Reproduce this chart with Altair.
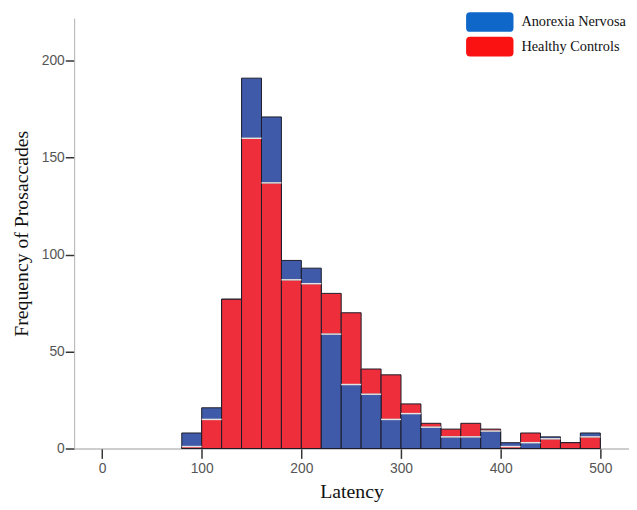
import altair as alt
import pandas as pd

# ---- data ----
bin_starts = [80, 100, 120, 140, 160, 180, 200, 220, 240, 260, 280,
              300, 320, 340, 360, 380, 400, 420, 440, 460, 480]
bin_width = 20
an_counts = [8, 21, 77, 191, 171, 97, 93, 59, 33, 28, 15,
             18, 11, 6, 6, 9, 3, 3, 6, 3, 8]
hc_counts = [1, 15, 77, 160, 137, 87, 85, 80, 70, 41, 38,
             23, 13, 10, 13, 10, 1, 8, 5, 3, 6]
groups = ["Anorexia Nervosa", "Healthy Controls"]
x_ticks = [0, 100, 200, 300, 400, 500]
y_ticks = [0, 50, 100, 150, 200]

bar_colors = ["#3f5aa8", "#ee2e3b"]
legend_colors = ["#0f68c9", "#fa1111"]

rows = []
for s, a, h in zip(bin_starts, an_counts, hc_counts):
    hc_front = h <= a  # the shorter bar is drawn in front
    rows.append(dict(start=s, end=s + bin_width, group=groups[0], count=a,
                     layer=0 if hc_front else 1,
                     edge=(not hc_front) and a < h))
    rows.append(dict(start=s, end=s + bin_width, group=groups[1], count=h,
                     layer=1 if hc_front else 0,
                     edge=hc_front and h < a))
df = pd.DataFrame(rows)

x_enc = alt.X("start:Q",
              scale=alt.Scale(domain=[-28, 528.8], nice=False, zero=False),
              axis=alt.Axis(values=x_ticks, title="Latency", grid=False,
                            tickSize=10, labelPadding=3,
                            domainColor="#9a9a9a", tickColor="#333333",
                            titleX=281, titleY=44, titleAlign="center",
                            titleBaseline="middle"))
y_enc = alt.Y("count:Q",
              scale=alt.Scale(domain=[0, 222], nice=False),
              axis=alt.Axis(values=y_ticks, title="Frequency of Prosaccades",
                            grid=False, tickSize=9, labelPadding=1,
                            domainColor="#b0b0b0", tickColor="#333333",
                            titleX=-53, titleY=218, titleAlign="center",
                            titleBaseline="middle"))
col_enc = alt.Color("group:N",
                    scale=alt.Scale(domain=groups, range=bar_colors),
                    legend=None)

base = alt.Chart(df).mark_bar(stroke="#1c1c2a", strokeWidth=1).encode(
    x=x_enc, x2="end:Q", y=y_enc, y2=alt.datum(0), color=col_enc)

back = base.transform_filter("datum.layer == 0")
front = base.transform_filter("datum.layer == 1")

edges = alt.Chart(df).mark_rule(color="#e4e4e4", strokeWidth=1.5).encode(
    x="start:Q", x2="end:Q", y="count:Q").transform_filter("datum.edge")

legend_path = ("M-0.6,-1H3.4Q3.8,-1 3.8,-0.6V0.6Q3.8,1 3.4,1H-0.6"
               "Q-1,1 -1,0.6V-0.6Q-1,-1 -0.6,-1Z")
legend_layer = alt.Chart(df).mark_square(opacity=1).encode(
    color=alt.Color("group:N",
                    scale=alt.Scale(domain=groups, range=legend_colors),
                    legend=alt.Legend(orient="none", legendX=397, legendY=-6,
                                      title=None, symbolType=legend_path,
                                      symbolSize=400, symbolStrokeWidth=0,
                                      symbolOpacity=1,
                                      labelFont="Liberation Serif",
                                      labelFontSize=14.5, labelColor="#111111",
                                      labelOffset=36, rowPadding=5, padding=0,
                                      labelLimit=300))
).transform_filter("false")

chart = alt.layer(back, front, edges, legend_layer).resolve_scale(
    color="independent"
).properties(
    width=562, height=436,
    autosize=alt.AutoSizeParams(type="none"),
    padding={"left": 67, "top": 7, "right": 0, "bottom": 51},
    background="white",
).configure_view(stroke=None).configure_axis(
    labelFont="Liberation Sans", labelFontSize=14, labelColor="#555555",
    titleFont="Liberation Serif", titleFontSize=20, titleFontWeight="normal",
    titleColor="#111111", domainWidth=1, tickWidth=1.5,
)

chart.save("out.html", embed_options={"renderer": "svg", "actions": False})
